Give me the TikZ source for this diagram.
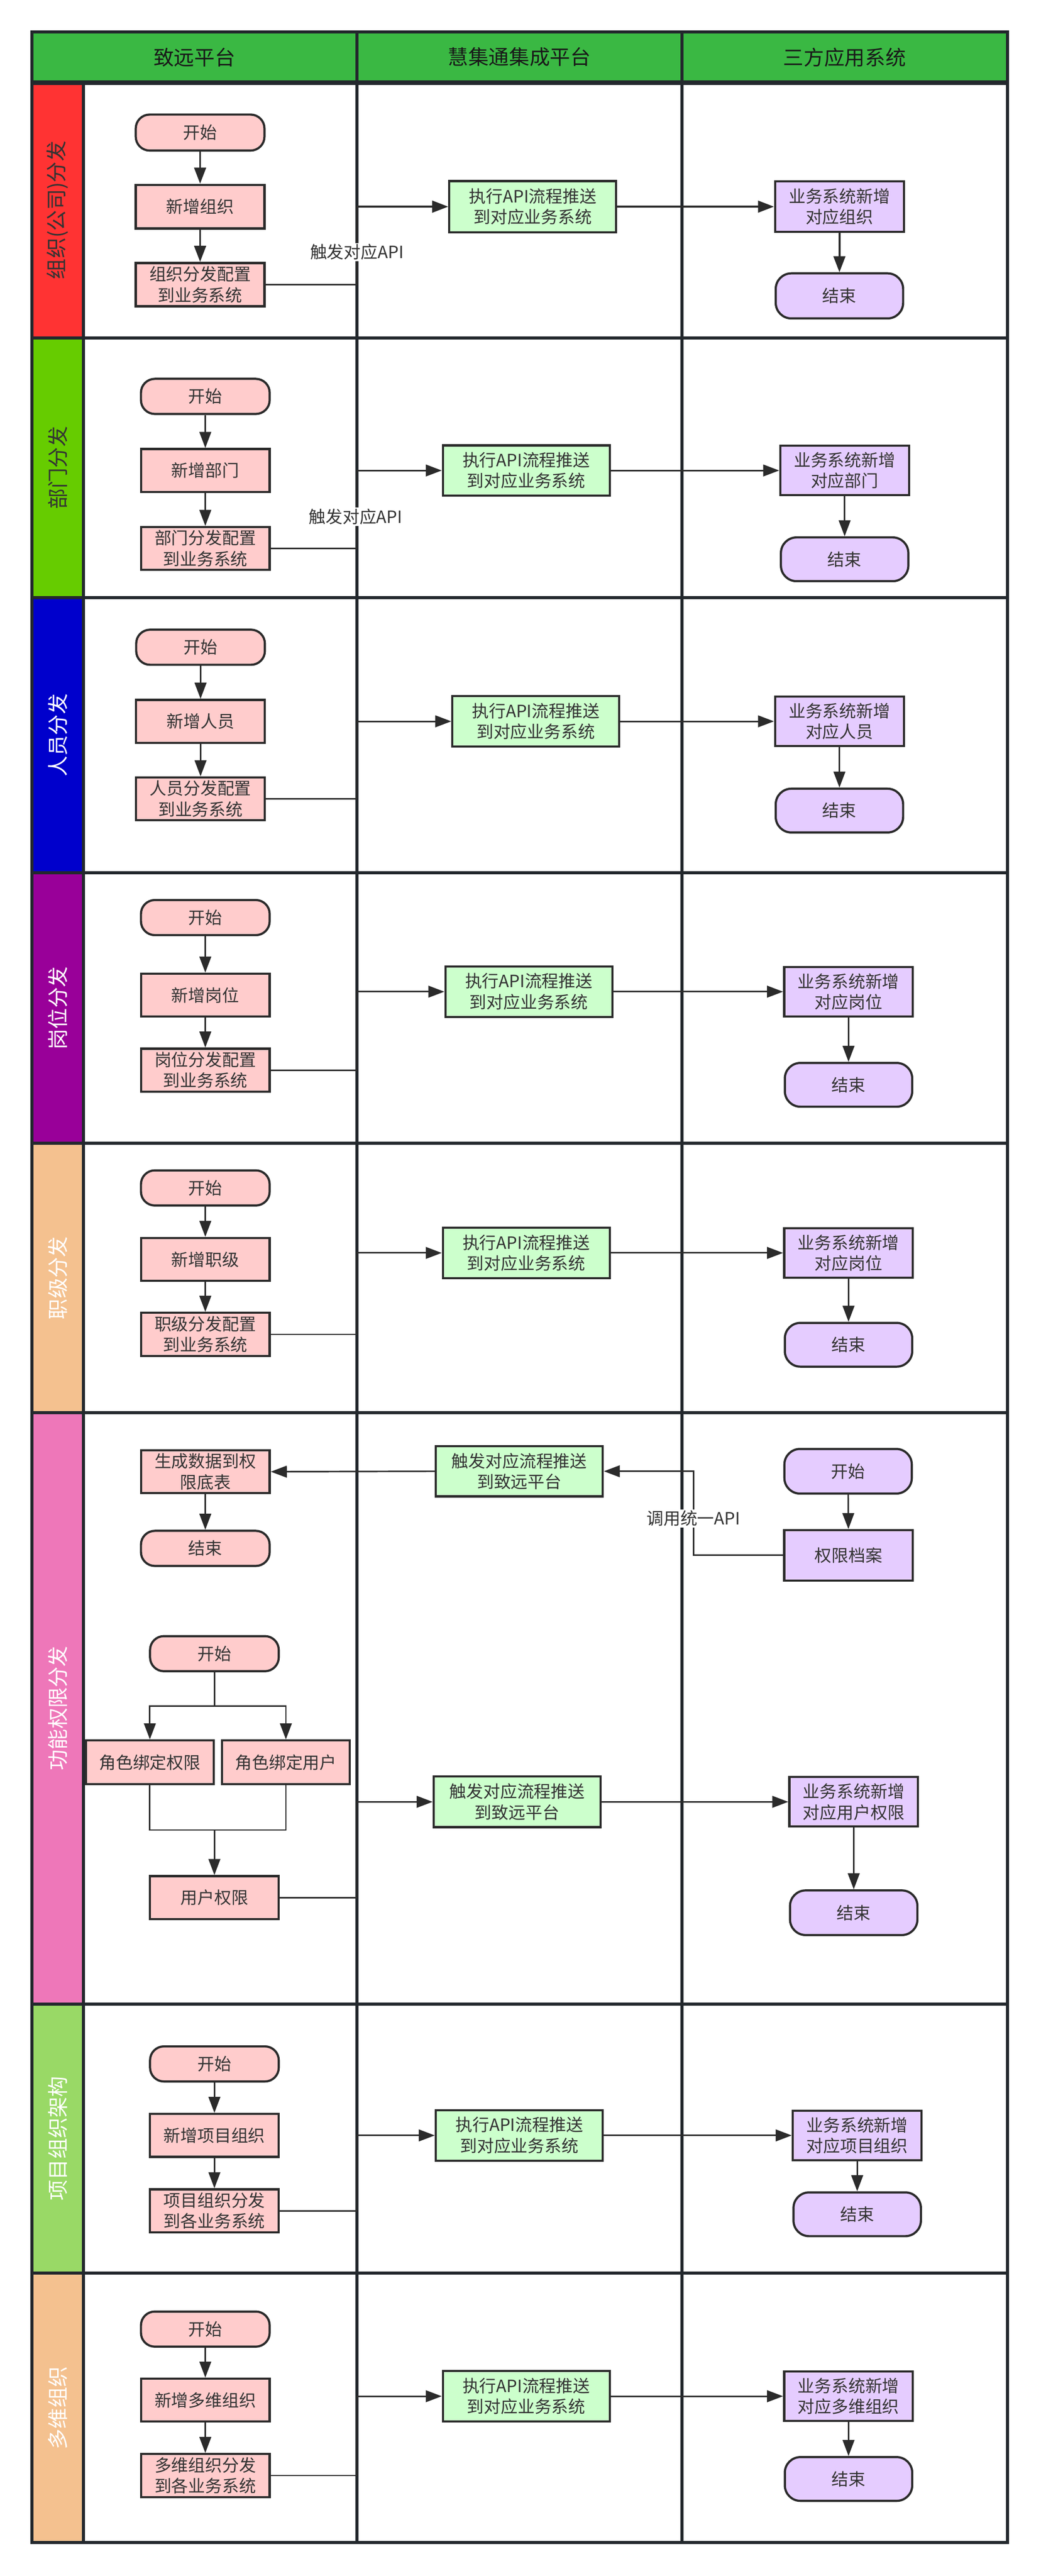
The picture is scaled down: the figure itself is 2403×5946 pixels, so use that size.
\documentclass[tikz,border=0pt]{standalone}
\usepackage{fontspec}
\setmainfont{Noto Sans CJK SC}
\usetikzlibrary{arrows.meta,calc}
\definecolor{frame}{HTML}{23282D}
\definecolor{bord}{HTML}{2B2B2B}
\definecolor{txt}{HTML}{333333}
\definecolor{hdr}{HTML}{3AB843}
\definecolor{pinkf}{HTML}{FFCCCC}
\definecolor{greenf}{HTML}{CCFFCC}
\definecolor{purf}{HTML}{E5CCFF}
\definecolor{laneA}{HTML}{FF3333}
\definecolor{laneB}{HTML}{66CC00}
\definecolor{laneC}{HTML}{0000CC}
\definecolor{laneD}{HTML}{990099}
\definecolor{laneE}{HTML}{F4C18F}
\definecolor{laneF}{HTML}{EE77B9}
\definecolor{laneG}{HTML}{99D966}
\newcommand{\bodyfnt}{\fontsize{11.1pt}{13.7pt}\selectfont}
\newcommand{\hdrfnt}{\fontsize{13.4pt}{16pt}\selectfont}
\newcommand{\lanefnt}{\fontsize{13.6pt}{16pt}\selectfont}
\tikzset{
  boxbase/.style={draw=bord, line width=0.05cm, inner sep=0pt, align=center, text=txt, font=\bodyfnt},
  pbox/.style={boxbase, fill=pinkf, minimum width=2.97cm, minimum height=0.99cm},
  pstart/.style={pbox, rounded corners=0.32cm, minimum height=0.81cm},
  gbox/.style={boxbase, fill=greenf, minimum width=3.85cm, minimum height=1.16cm},
  ubox/.style={boxbase, fill=purf, minimum width=2.97cm, minimum height=1.14cm},
  uend/.style={boxbase, fill=purf, rounded corners=0.36cm, minimum width=2.94cm, minimum height=1.01cm},
  arr/.style={draw=bord, line width=0.035cm, -{Triangle[length=0.37cm,width=0.27cm]}},
  lnk/.style={draw=bord, line width=0.035cm},
  lbl/.style={fill=white, text=txt, font=\bodyfnt, inner sep=0.03cm},
  hdrtext/.style={text=black!90, font=\hdrfnt},
  lanetext/.style={rotate=90, font=\lanefnt},
  gridline/.style={draw=frame, line width=0.07cm},
}
\begin{document}
\begin{tikzpicture}[x=0.01cm,y=-0.01cm]
\useasboundingbox (0,0) rectangle (2403,5946);
% fills
\fill[hdr] (74,74) rectangle (2326,191);
\fill[laneA] (74,191) rectangle (193,780);
\fill[laneB] (74,780) rectangle (193,1379);
\fill[laneC] (74,1379) rectangle (193,2015);
\fill[laneD] (74,2015) rectangle (193,2639);
\fill[laneE] (74,2639) rectangle (193,3261);
\fill[laneF] (74,3261) rectangle (193,4626);
\fill[laneG] (74,4626) rectangle (193,5247);
\fill[laneE] (74,5247) rectangle (193,5869);
% grid
\draw[gridline] (74,74) rectangle (2326,5869);
\draw[gridline] (193,191) -- (193,5869);
\draw[gridline] (824,74) -- (824,5869);
\draw[gridline] (1575,74) -- (1575,5869);
\draw[draw=frame, line width=0.1cm] (74,191) -- (2326,191);
\foreach \yy in {780,1379,2015,2639,3261,4626,5247}{
  \draw[gridline] (74,\yy) -- (2326,\yy);
}
% headers
\node[hdrtext] (hd1) at (449,132) {致远平台};
\node[hdrtext] (hd2) at (1199,132) {慧集通集成平台};
\node[hdrtext] (hd3) at (1950,132) {三方应用系统};
% lane labels
\node[lanetext, text=txt] (lab1) at (133,485) {组织(公司)分发};
\node[lanetext, text=txt] (lab2) at (133,1080) {部门分发};
\node[lanetext, text=white] (lab3) at (133,1697) {人员分发};
\node[lanetext, text=white] (lab4) at (133,2327) {岗位分发};
\node[lanetext, text=white] (lab5) at (133,2950) {职级分发};
\node[lanetext, text=white] (lab6) at (133,3943) {功能权限分发};
\node[lanetext, text=white] (lab7) at (133,4936) {项目组织架构};
\node[lanetext, text=white] (lab8) at (133,5558) {多维组织};
\coordinate (dv) at (824,0);
\coordinate (dw) at (1601,0);
% ---------- lane 1
\node[pstart, minimum height=0.83cm] (st1) at (462,306) {开始};
\node[pbox, minimum height=1.01cm] (n1) at (462,477) {新增组织};
\node[pbox, minimum height=1.0cm] (c1) at (462,657) {组织分发配置\\到业务系统};
\node[gbox, minimum height=1.18cm] (g1) at (1230,477) {执行API流程推送\\到对应业务系统};
\node[ubox, minimum height=1.16cm] (u1) at (1938,477) {业务系统新增\\对应组织};
\node[uend, minimum height=1.04cm] (e1) at (1938,683) {结束};
\draw[arr, line width=0.045cm] (st1) -- (n1);
\draw[arr, line width=0.045cm] (n1) -- (c1);
\draw[arr, line width=0.045cm] (c1.east) -| (dv |- g1.west) -- (g1.west);
\draw[arr, line width=0.045cm] (g1.east) -- (u1.west);
\draw[arr, line width=0.045cm] (u1) -- (e1);
\node[lbl] (lb1) at (824,582) {触发对应API};
% ---------- lane 2
\node[pstart] (st2) at (474,915) {开始};
\node[pbox] (n2) at (474,1086) {新增部门};
\node[pbox] (c2) at (474,1266) {部门分发配置\\到业务系统};
\node[gbox] (g2) at (1215,1086) {执行API流程推送\\到对应业务系统};
\node[ubox] (u2) at (1950,1086) {业务系统新增\\对应部门};
\node[uend] (e2) at (1950,1291) {结束};
\draw[arr] (st2) -- (n2);
\draw[arr] (n2) -- (c2);
\draw[arr] (c2.east) -| (dv |- g2.west) -- (g2.west);
\draw[arr] (g2.east) -- (u2.west);
\draw[arr] (u2) -- (e2);
\node[lbl] (lb2) at (821,1193) {触发对应API};
% ---------- lane 3
\node[pstart] (st3) at (463,1494) {开始};
\node[pbox] (n3) at (463,1665) {新增人员};
\node[pbox] (c3) at (463,1844) {人员分发配置\\到业务系统};
\node[gbox] (g3) at (1237,1665) {执行API流程推送\\到对应业务系统};
\node[ubox] (u3) at (1938,1665) {业务系统新增\\对应人员};
\node[uend] (e3) at (1938,1871) {结束};
\draw[arr] (st3) -- (n3);
\draw[arr] (n3) -- (c3);
\draw[arr] (c3.east) -| (dv |- g3.west) -- (g3.west);
\draw[arr] (g3.east) -- (u3.west);
\draw[arr] (u3) -- (e3);
% ---------- lane 4
\node[pstart] (st4) at (474,2118) {开始};
\node[pbox] (n4) at (474,2297) {新增岗位};
\node[pbox] (c4) at (474,2470) {岗位分发配置\\到业务系统};
\node[gbox] (g4) at (1221,2289) {执行API流程推送\\到对应业务系统};
\node[ubox] (u4) at (1959,2289) {业务系统新增\\对应岗位};
\node[uend] (e4) at (1959,2504) {结束};
\draw[arr] (st4) -- (n4);
\draw[arr] (n4) -- (c4);
\draw[arr] (c4.east) -| (dv |- g4.west) -- (g4.west);
\draw[arr] (g4.east) -- (u4.west);
\draw[arr] (u4) -- (e4);
% ---------- lane 5
\node[pstart] (st5) at (474,2742) {开始};
\node[pbox] (n5) at (474,2907) {新增职级};
\node[pbox] (c5) at (474,3080) {职级分发配置\\到业务系统};
\node[gbox] (g5) at (1215,2892) {执行API流程推送\\到对应业务系统};
\node[ubox] (u5) at (1959,2892) {业务系统新增\\对应岗位};
\node[uend] (e5) at (1959,3104) {结束};
\draw[arr] (st5) -- (n5);
\draw[arr] (n5) -- (c5);
\draw[arr] (c5.east) -| (dv |- g5.west) -- (g5.west);
\draw[arr] (g5.east) -- (u5.west);
\draw[arr] (u5) -- (e5);
% ---------- lane 6 (upper)
\node[pbox] (gen) at (474,3397) {生成数据到权\\限底表};
\node[pstart] (e6a) at (474,3574) {结束};
\node[gbox] (g6a) at (1199,3396) {触发对应流程推送\\到致远平台};
\node[uend, minimum height=1.03cm] (su6) at (1958,3396) {开始};
\node[ubox, minimum height=1.16cm] (perm) at (1959,3590) {权限档案};
\draw[arr] (su6) -- (perm);
\draw[arr] (perm.west) -| (dw |- g6a.east) -- (g6a.east);
\draw[arr] (g6a.west) -- (gen.east);
\draw[arr] (gen) -- (e6a);
\node[lbl] (lb3) at (1601,3505) {调用统一API};
% ---------- lane 6 (lower)
\node[pstart] (s6b) at (495,3817) {开始};
\node[pbox, minimum width=2.94cm, minimum height=1.01cm] (r1) at (346,4068) {角色绑定权限};
\node[pbox, minimum width=2.94cm, minimum height=1.01cm] (r2) at (660,4068) {角色绑定用户};
\node[pbox] (up) at (495,4380) {用户权限};
\coordinate (sp) at (495,3938);
\coordinate (jn) at (495,4224);
\draw[lnk] (s6b.south) -- (sp);
\draw[arr] (sp) -| (r1.north);
\draw[arr] (sp) -| (r2.north);
\draw[lnk] (r1.south) |- (jn);
\draw[lnk] (r2.south) |- (jn);
\draw[arr] (jn) -- (up.north);
\node[gbox, minimum height=1.17cm] (g6b) at (1194,4159) {触发对应流程推送\\到致远平台};
\node[ubox] (u6) at (1971,4159) {业务系统新增\\对应用户权限};
\node[uend, minimum height=1.03cm] (e6) at (1971,4415) {结束};
\draw[arr] (up.east) -| (dv |- g6b.west) -- (g6b.west);
\draw[arr] (g6b.east) -- (u6.west);
\draw[arr] (u6) -- (e6);
% ---------- lane 7
\node[pstart] (st7) at (495,4764) {开始};
\node[pbox] (n7) at (495,4929) {新增项目组织};
\node[pbox] (c7) at (495,5103) {项目组织分发\\到各业务系统};
\node[gbox] (g7) at (1199,4929) {执行API流程推送\\到对应业务系统};
\node[ubox] (u7) at (1979,4929) {业务系统新增\\对应项目组织};
\node[uend] (e7) at (1979,5111) {结束};
\draw[arr] (st7) -- (n7);
\draw[arr] (n7) -- (c7);
\draw[arr] (c7.east) -| (dv |- g7.west) -- (g7.west);
\draw[arr] (g7.east) -- (u7.west);
\draw[arr] (u7) -- (e7);
% ---------- lane 8
\node[pstart] (st8) at (474,5376) {开始};
\node[pbox] (n8) at (474,5540) {新增多维组织};
\node[pbox] (c8) at (474,5714) {多维组织分发\\到各业务系统};
\node[gbox] (g8) at (1215,5531) {执行API流程推送\\到对应业务系统};
\node[ubox] (u8) at (1959,5531) {业务系统新增\\对应多维组织};
\node[uend] (e8) at (1959,5722) {结束};
\draw[arr] (st8) -- (n8);
\draw[arr] (n8) -- (c8);
\draw[arr] (c8.east) -| (dv |- g8.west) -- (g8.west);
\draw[arr] (g8.east) -- (u8.west);
\draw[arr] (u8) -- (e8);
\end{tikzpicture}
\end{document}
